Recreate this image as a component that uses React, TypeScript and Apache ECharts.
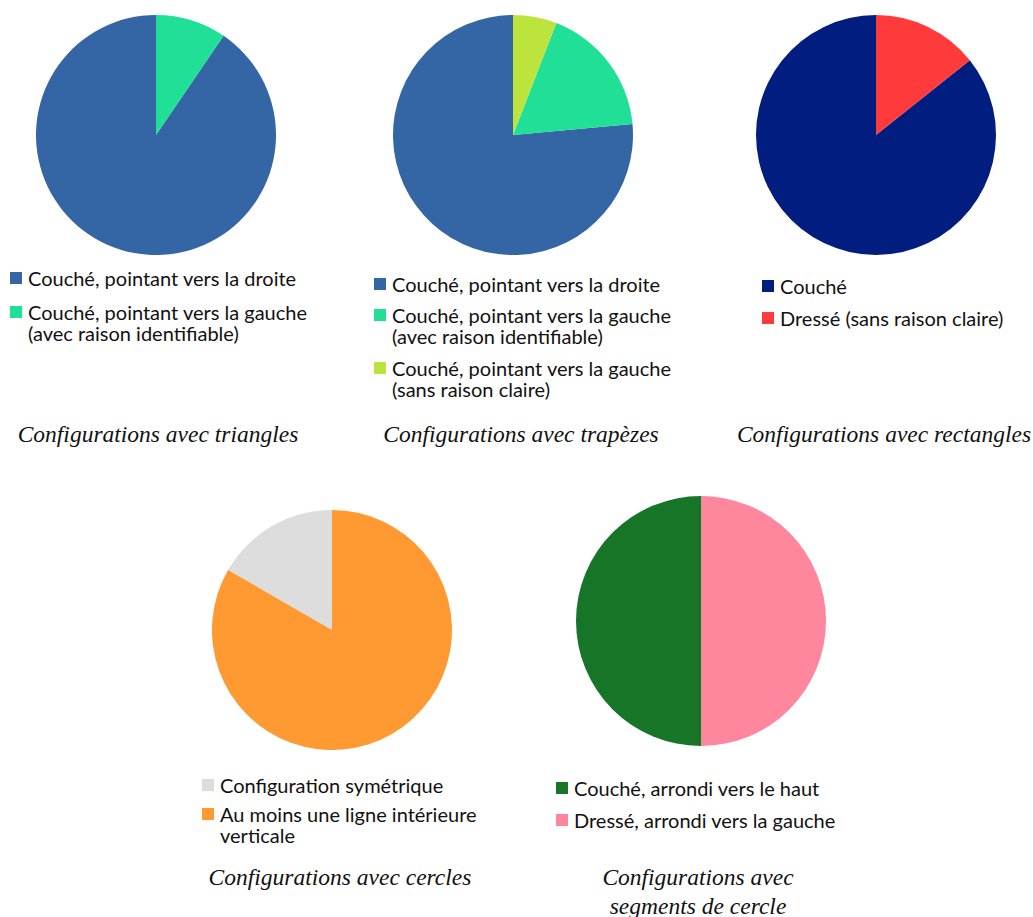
import React, { useEffect, useRef } from "react";
import * as echarts from "echarts";

// ---- Data ----
const triLabels = ["Couché, pointant vers la droite", "Couché, pointant vers la gauche\n(avec raison identifiable)"];
const triValues = [19, 2];
const triColors = ["#3465a4", "#1fe096"];

const trapLabels = [
  "Couché, pointant vers la droite",
  "Couché, pointant vers la gauche\n(avec raison identifiable)",
  "Couché, pointant vers la gauche\n(sans raison claire)",
];
const trapValues = [13, 3, 1];
const trapColors = ["#3465a4", "#1fe096", "#bde33d"];

const rectLabels = ["Couché", "Dressé (sans raison claire)"];
const rectValues = [6, 1];
const rectColors = ["#021d80", "#ff3a3a"];

const circLabels = ["Configuration symétrique", "Au moins une ligne intérieure\nverticale"];
const circValues = [1, 5];
const circColors = ["#dddddd", "#ff9a33"];

const segLabels = ["Couché, arrondi vers le haut", "Dressé, arrondi vers la gauche"];
const segValues = [1, 1];
const segColors = ["#167527", "#ff879d"];

const titles = [
  "Configurations avec triangles",
  "Configurations avec trapèzes",
  "Configurations avec rectangles",
  "Configurations avec cercles",
  "Configurations avec\nsegments de cercle",
];

const LEGEND_FONT = "Lato";
const LEGEND_SIZE = 20;
const LINE_H = 21;

type PieDef = {
  labels: string[];
  values: number[];
  colors: string[];
  cx: number;
  cy: number;
  r: number;
  legendX: number;
  legendY: number[]; // center of first line of each item
  title: string;
  titleX: number;
  titleY: number;
};

const pies: PieDef[] = [
  { labels: triLabels, values: triValues, colors: triColors, cx: 156, cy: 135, r: 120, legendX: 10, legendY: [278, 312], title: titles[0], titleX: 158, titleY: 434 },
  { labels: trapLabels, values: trapValues, colors: trapColors, cx: 513, cy: 135, r: 120, legendX: 374, legendY: [284, 315, 368], title: titles[1], titleX: 521, titleY: 434 },
  { labels: rectLabels, values: rectValues, colors: rectColors, cx: 876, cy: 135, r: 120, legendX: 762, legendY: [286, 318], title: titles[2], titleX: 884, titleY: 434 },
  { labels: circLabels, values: circValues, colors: circColors, cx: 332, cy: 630, r: 120, legendX: 202, legendY: [785, 814], title: titles[3], titleX: 340, titleY: 877 },
  { labels: segLabels, values: segValues, colors: segColors, cx: 701, cy: 621, r: 125, legendX: 556, legendY: [788, 820], title: titles[4], titleX: 698, titleY: 877 },
];

export default function App() {
  const ref = useRef<HTMLDivElement>(null);
  useEffect(() => {
    if (!ref.current) return;
    const chart = echarts.init(ref.current, undefined, { renderer: "svg" });
    const series: any[] = pies.map((p) => ({
      type: "pie",
      center: [p.cx, p.cy],
      radius: [0, p.r],
      startAngle: 90,
      clockwise: false,
      silent: true,
      label: { show: false },
      labelLine: { show: false },
      emphasis: { disabled: true },
      itemStyle: { borderWidth: 0 },
      data: p.values.map((v, i) => ({ name: p.labels[i], value: v, itemStyle: { color: p.colors[i] } })),
    }));
    const graphic: any[] = [];
    pies.forEach((p) => {
      p.labels.forEach((lab, i) => {
        const y = p.legendY[i];
        graphic.push({
          type: "rect",
          shape: { x: p.legendX, y: y - 6, width: 12, height: 12 },
          style: { fill: p.colors[i] },
          silent: true,
        });
        graphic.push({
          type: "text",
          x: p.legendX + 18,
          y: y - LINE_H / 2,
          style: {
            text: lab,
            font: `${LEGEND_SIZE}px ${LEGEND_FONT}`,
            fill: "#111111",
            lineHeight: LINE_H,
            verticalAlign: "top",
            align: "left",
          },
          silent: true,
        });
      });
      graphic.push({
        type: "text",
        x: p.titleX,
        y: p.titleY - 14.5,
        style: {
          text: p.title,
          font: `italic 23.5px "Liberation Serif"`,
          fill: "#111111",
          lineHeight: 29,
          verticalAlign: "top",
          align: "center",
        },
        silent: true,
      });
    });
    chart.setOption({
      animation: false,
      backgroundColor: "#ffffff",
      series,
      graphic,
    });
    return () => chart.dispose();
  }, []);
  return (
    <div
      ref={ref}
      style={{ position: "fixed", left: 0, top: 0, width: 1033, height: 917 }}
    />
  );
}
